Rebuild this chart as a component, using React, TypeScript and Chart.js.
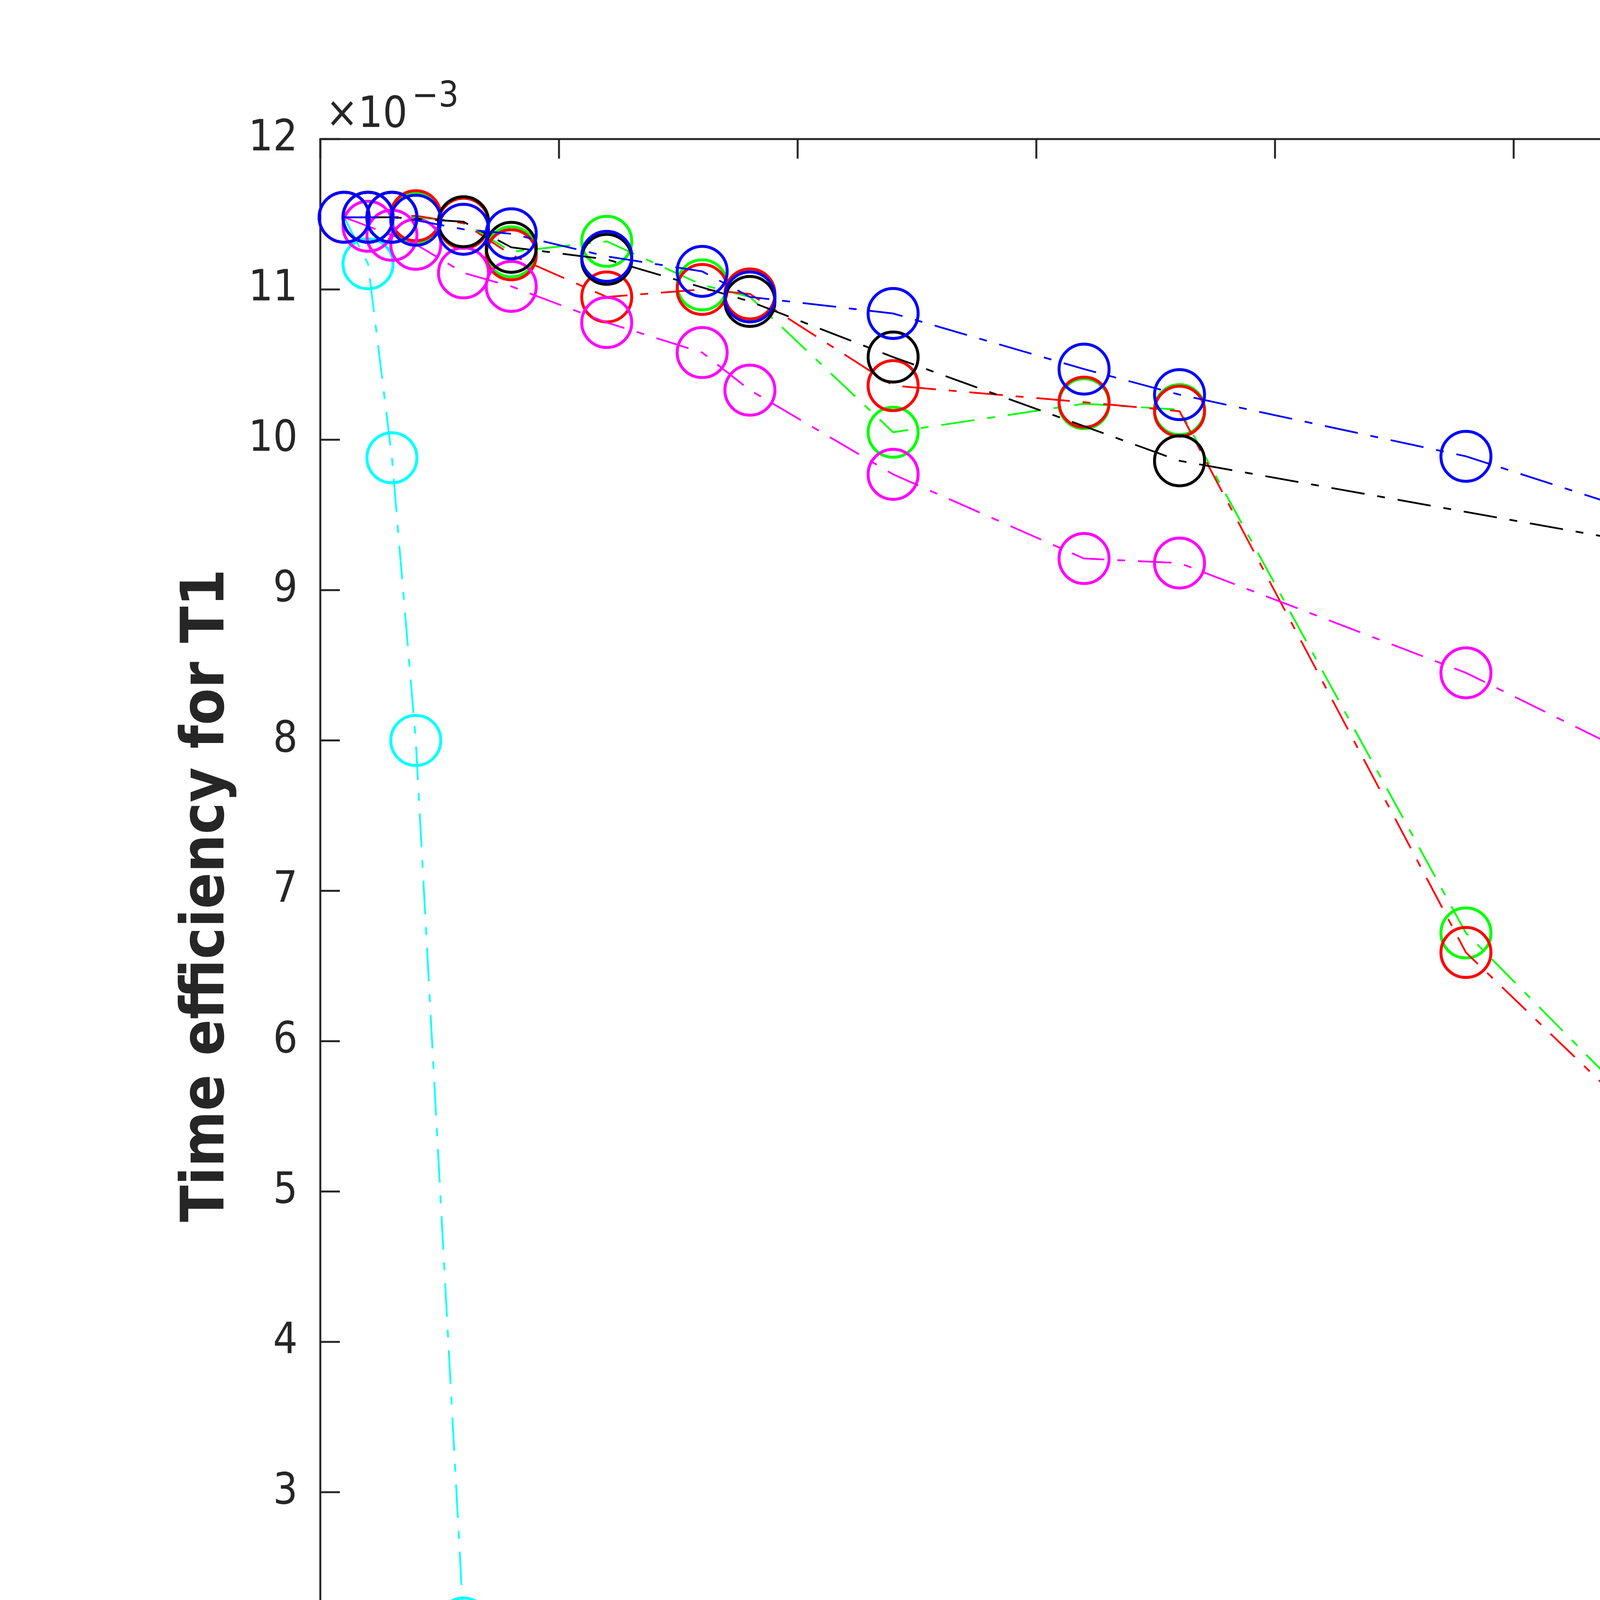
import { useEffect, useRef } from 'react';
import { Chart, registerables } from 'chart.js';

Chart.register(...registerables);

const W = 6299;
const H = 4724;
const FONT = '"DejaVu Sans Condensed", "DejaVu Sans", sans-serif';
const AXIS_COLOR = '#262626';

// ---- tick labels ----
const X_TICKS = [0, 10, 20, 30, 40, 50, 60, 70, 80];
const Y_TICKS = [2, 3, 4, 5, 6, 7, 8, 9, 10, 11, 12];

// ---- series (y values in units of 1e-3) ----
const R_REG = [1, 2, 3, 4, 6];
const Y_REG = [11.48, 11.17, 9.88, 8.0, 2.13];

const R_TRANS = [1, 2, 3, 4, 6, 8, 12, 16, 18, 24, 32, 36, 48, 64];
const Y_TRANS = [11.48, 11.48, 11.48, 11.48, 11.45, 11.25, 11.32, 11.03, 10.95, 10.05, 10.24, 10.2, 6.72, 4.15];

const R_TS = [1, 2, 3, 4, 6, 8, 12, 16, 18, 24, 32, 36, 48, 64];
const Y_TS = [11.48, 11.48, 11.48, 11.49, 11.44, 11.23, 10.95, 11.0, 10.97, 10.36, 10.25, 10.19, 6.59, 4.15];

const R_RAND = [1, 2, 3, 4, 6, 8, 12, 16, 18, 24, 32, 36, 48, 64];
const Y_RAND = [11.48, 11.42, 11.36, 11.3, 11.11, 11.02, 10.78, 10.58, 10.33, 9.77, 9.21, 9.18, 8.45, 7.2];

const R_RUSK = [2, 3, 6, 8, 12, 18, 24, 36, 72];
const Y_RUSK = [11.48, 11.48, 11.45, 11.28, 11.2, 10.92, 10.55, 9.86, 8.84];

const R_RHALTON = [1, 2, 3, 4, 6, 8, 12, 16, 18, 24, 32, 36, 48, 64];
const Y_RHALTON = [11.48, 11.48, 11.48, 11.46, 11.4, 11.37, 11.22, 11.12, 10.95, 10.84, 10.47, 10.3, 9.89, 9.07];

const SERIES_NAMES = ['Reg', 'Trans', 'TS', 'Rand', 'RUSK', 'RHalton'];
const SERIES_COLORS = ['#00FFFF', '#00FF00', '#FF0000', '#FF00FF', '#000000', '#0000FF'];
const SERIES_X = [R_REG, R_TRANS, R_TS, R_RAND, R_RUSK, R_RHALTON];
const SERIES_Y = [Y_REG, Y_TRANS, Y_TS, Y_RAND, Y_RUSK, Y_RHALTON];

const X_TITLE = 'Acceleration factor R';
const Y_TITLE = 'Time efficiency for T1';

const DASH_DOT = [86, 33, 20, 33];
const LINE_W = 4.5;
const MARK_W = 7.5;
const MARK_R = 64;

const matlabAxes = {
  id: 'matlabAxes',
  beforeDatasetsDraw(chart: any) {
    const { ctx, chartArea, scales } = chart;
    const { left, top, right, bottom } = chartArea;
    const tl = 50;
    ctx.save();
    ctx.strokeStyle = AXIS_COLOR;
    ctx.lineWidth = 5;
    ctx.setLineDash([]);
    ctx.strokeRect(left, top, right - left, bottom - top);
    ctx.beginPath();
    X_TICKS.forEach((v) => {
      const px = scales.x.getPixelForValue(v);
      ctx.moveTo(px, bottom);
      ctx.lineTo(px, bottom - tl);
      ctx.moveTo(px, top);
      ctx.lineTo(px, top + tl);
    });
    Y_TICKS.forEach((v) => {
      const py = scales.y.getPixelForValue(v);
      ctx.moveTo(left, py);
      ctx.lineTo(left + tl, py);
      ctx.moveTo(right, py);
      ctx.lineTo(right - tl, py);
    });
    ctx.stroke();
    ctx.restore();
  },
  afterDraw(chart: any) {
    const { ctx, chartArea } = chart;
    const { left, top, right, bottom } = chartArea;
    ctx.save();
    ctx.fillStyle = AXIS_COLOR;
    // exponent
    ctx.textAlign = 'left';
    ctx.textBaseline = 'alphabetic';
    ctx.font = `110px ${FONT}`;
    ctx.fillText('\u00D710', left + 14, top - 31);
    const w10 = ctx.measureText('\u00D710').width;
    ctx.font = `90px ${FONT}`;
    ctx.fillText('\u22123', left + 14 + w10 + 12, top - 83);

    // axis titles
    ctx.font = `bold 153px ${FONT}`;
    ctx.textAlign = 'center';
    ctx.fillText(X_TITLE, (left + right) / 2, 4552);
    ctx.save();
    ctx.translate(572, (top + bottom) / 2 + 12);
    ctx.rotate(-Math.PI / 2);
    ctx.fillText(Y_TITLE, 0, 0);
    ctx.restore();

    // legend
    const bx = 4668, by = 442, bw = 839, bh = 787;
    ctx.fillStyle = '#ffffff';
    ctx.fillRect(bx, by, bw, bh);
    ctx.strokeStyle = AXIS_COLOR;
    ctx.lineWidth = 5;
    ctx.strokeRect(bx, by, bw, bh);
    const rowY = [523, 650, 776, 899, 1026, 1149];
    chart.data.datasets.forEach((ds: any, i: number) => {
      const yy = rowY[i];
      ctx.strokeStyle = ds.borderColor;
      ctx.lineWidth = LINE_W;
      ctx.setLineDash(DASH_DOT);
      ctx.beginPath();
      ctx.moveTo(4734, yy);
      ctx.lineTo(5046, yy);
      ctx.stroke();
      ctx.setLineDash([]);
      ctx.lineWidth = MARK_W;
      ctx.beginPath();
      ctx.arc(4900, yy, 68, 0, Math.PI * 2);
      ctx.stroke();
      ctx.fillStyle = '#000000';
      ctx.font = `95px ${FONT}`;
      ctx.textAlign = 'left';
      ctx.textBaseline = 'alphabetic';
      ctx.fillText(ds.label, 5104, yy + 38);
    });
    ctx.restore();
  },
};

export default function App() {
  const ref = useRef<HTMLCanvasElement>(null);
  useEffect(() => {
    const datasets = SERIES_NAMES.map((name, i) => ({
      label: name,
      data: SERIES_X[i].map((xv, j) => ({ x: xv, y: SERIES_Y[i][j] })),
      borderColor: SERIES_COLORS[i],
      backgroundColor: 'transparent',
      borderWidth: LINE_W,
      borderDash: DASH_DOT,
      fill: false,
      tension: 0,
      pointStyle: 'circle',
      pointRadius: MARK_R,
      pointHoverRadius: MARK_R,
      pointBorderWidth: MARK_W,
      pointBackgroundColor: 'transparent',
      pointBorderColor: SERIES_COLORS[i],
      clip: false,
      order: SERIES_NAMES.length - 1 - i,
    }));
    const tickFont = { family: FONT, size: 110 };
    const chart = new Chart(ref.current as HTMLCanvasElement, {
      type: 'line',
      data: { datasets } as any,
      options: {
        animation: false,
        responsive: false,
        devicePixelRatio: 1,
        events: [],
        layout: { padding: { left: 0, top: 356, right: W - 5708, bottom: 0 } },
        plugins: { legend: { display: false }, tooltip: { enabled: false }, title: { display: false } },
        scales: {
          x: {
            type: 'linear',
            min: 0,
            max: 80,
            grid: { display: false, drawTicks: false },
            border: { display: false },
            afterBuildTicks: (s: any) => { s.ticks = X_TICKS.map((v) => ({ value: v })); },
            afterFit: (s: any) => { s.height = H - 4205; },
            ticks: { color: AXIS_COLOR, font: tickFont, padding: 53, maxRotation: 0, autoSkip: false },
          },
          y: {
            type: 'linear',
            min: 2,
            max: 12,
            grid: { display: false, drawTicks: false },
            border: { display: false },
            afterBuildTicks: (s: any) => { s.ticks = Y_TICKS.map((v) => ({ value: v })); },
            afterFit: (s: any) => { s.width = 820; },
            ticks: { color: AXIS_COLOR, font: tickFont, padding: 58, autoSkip: false },
          },
        },
      } as any,
      plugins: [matlabAxes],
    });
    return () => chart.destroy();
  }, []);
  return (
    <div style={{ position: 'absolute', left: 0, top: 0, width: W, height: H, background: '#ffffff' }}>
      <canvas ref={ref} width={W} height={H} style={{ width: W, height: H, display: 'block' }} />
    </div>
  );
}
